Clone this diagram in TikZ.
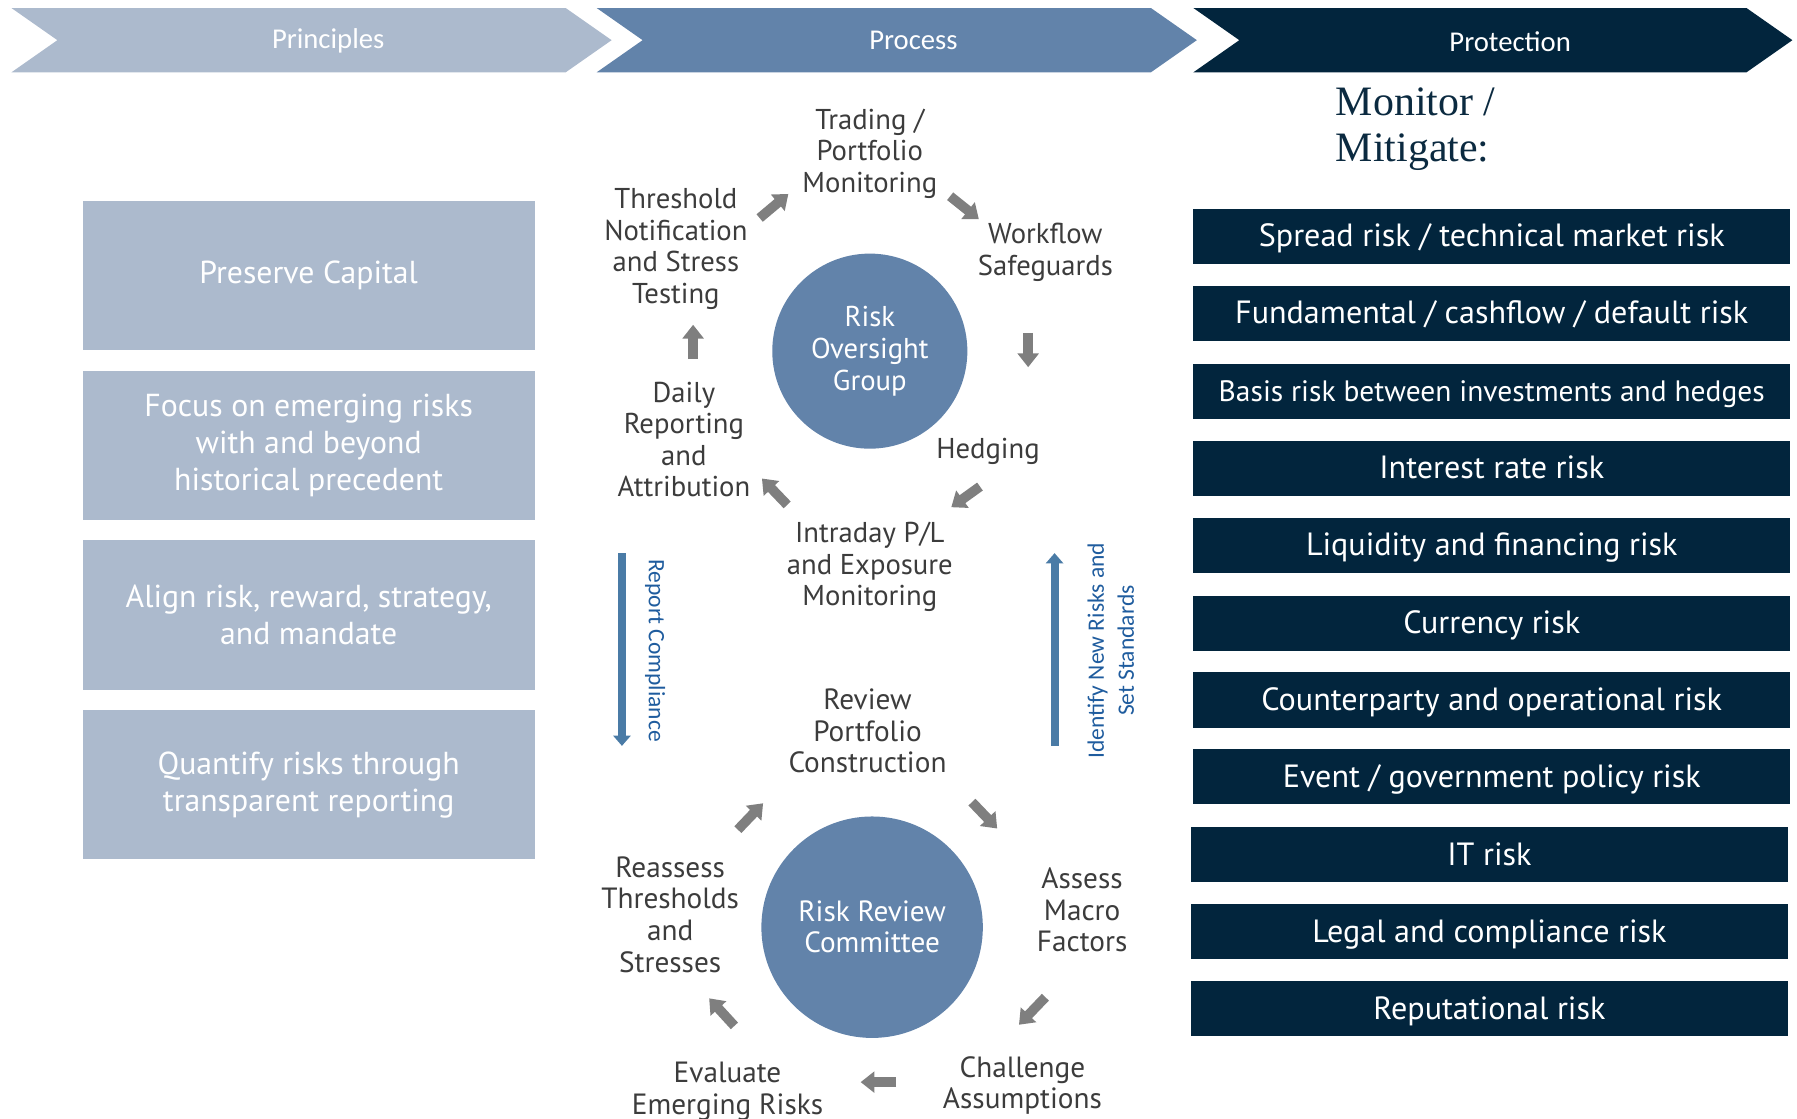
\documentclass[tikz,border=0pt]{standalone}
\usepackage{fontspec}
\setmainfont{PT Sans}
\newfontfamily\calibfont{Carlito}
\newfontfamily\serifmon{Liberation Serif}
\usetikzlibrary{arrows.meta}
\definecolor{princ}{HTML}{ACBACD}
\definecolor{proc}{HTML}{6283AA}
\definecolor{prot}{HTML}{02253D}
\definecolor{garr}{HTML}{7F7F7F}
\definecolor{barr}{HTML}{4A7BA6}
\definecolor{btext}{HTML}{1F5C9E}
\definecolor{ptext}{HTML}{3C3C3C}
\definecolor{montext}{HTML}{0B2A40}
\begin{document}
\begin{tikzpicture}[x=1pt,y=-1pt,
  chevlabel/.style={text=white,inner sep=0,font=\calibfont\fontsize{25}{30}\selectfont},
  pbox/.style={fill=princ,minimum width=394pt,minimum height=130pt,text=white,align=center,inner sep=0,font=\fontsize{27.7}{32}\selectfont},
  rbox/.style={fill=prot,minimum width=520pt,minimum height=48pt,text=white,inner sep=0,text height=21pt,text depth=3pt,font=\fontsize{28}{30}\selectfont},
  ptxt/.style={text=ptext,align=center,inner sep=0,font=\fontsize{25}{27.5}\selectfont},
  ltxt/.style={text=ptext,align=center,inner sep=0,font=\fontsize{25.5}{27.5}\selectfont},
  circ/.style={circle,fill=proc,text=white,align=center,inner sep=0},
  garrow/.style={draw=garr,line width=8.5pt,-{Triangle[width=18pt,length=12pt]}},
  barrow/.style={draw=barr,line width=7pt,-{Triangle[width=15pt,length=9pt]}},
  vlabel/.style={text=btext,align=center,inner sep=0,font=\calibfont\fontsize{20.5}{26}\selectfont}
]
\useasboundingbox (0,0) rectangle (1566,975);

% chevrons
\fill[princ] (10,7) -- (493,7) -- (533,35) -- (493,63) -- (10,63) -- (50,35) -- cycle;
\fill[proc] (520,7) -- (1003,7) -- (1043,35) -- (1003,63) -- (520,63) -- (560,35) -- cycle;
\fill[prot] (1040,7) -- (1522,7) -- (1562,35) -- (1522,63) -- (1040,63) -- (1080,35) -- cycle;
\node[chevlabel] (hprin) at (286,36) {Principles};
\node[chevlabel] (hproc) at (796,35) {Process};
\node[chevlabel] (hprot) at (1316,36) {Protection};

% principles boxes
\node[pbox] (p1) at (269,240) {Preserve Capital};
\node[pbox] (p2) at (269,388) {Focus on emerging risks\\with and beyond\\historical precedent};
\node[pbox] (p3) at (269,536) {Align risk, reward, strategy,\\and mandate};
\node[pbox] (p4) at (269,684) {Quantify risks through\\transparent reporting};

% monitor / mitigate
\node[anchor=north west,align=left,inner sep=0,text=montext,font=\serifmon\fontsize{36.5}{40}\selectfont] (mon) at (1164,76) {Monitor /\\Mitigate:};

% protection boxes
\node[rbox] (r1) at (1300,206) {Spread risk / technical market risk};
\node[rbox] (r2) at (1300,273) {Fundamental / cashflow / default risk};
\node[rbox,font=\fontsize{25.7}{30}\selectfont] (r3) at (1300,341) {Basis risk between investments and hedges};
\node[rbox] (r4) at (1300,408) {Interest rate risk};
\node[rbox] (r5) at (1300,475) {Liquidity and financing risk};
\node[rbox] (r6) at (1300,543) {Currency risk};
\node[rbox] (r7) at (1300,610) {Counterparty and operational risk};
\node[rbox] (r8) at (1300,677) {Event / government policy risk};
\node[rbox] (r9) at (1298,745) {IT risk};
\node[rbox] (r10) at (1298,812) {Legal and compliance risk};
\node[rbox] (r11) at (1298,879) {Reputational risk};

% upper cycle
\node[circ,minimum size=170pt,font=\fontsize{25}{28}\selectfont] (rog) at (758,306) {Risk\\Oversight\\Group};
\node[ptxt] (trad) at (758,134) {Trading /\\Portfolio\\Monitoring};
\node[ptxt] (thre) at (589,217) {Threshold\\Notification\\and Stress\\Testing};
\node[ptxt] (work) at (911,220) {Workflow\\Safeguards};
\node[ptxt] (hedg) at (861,393.5) {Hedging};
\node[ptxt] (dail) at (596,383) {Daily\\Reporting\\and\\Attribution};
\node[ptxt] (intr) at (758,494) {Intraday P/L\\and Exposure\\Monitoring};

\coordinate (u1s) at (662,190); \coordinate (u1e) at (687,169);
\coordinate (u2s) at (828,171); \coordinate (u2e) at (853,191);
\coordinate (u3s) at (896,290); \coordinate (u3e) at (896,320);
\coordinate (u4s) at (854,424); \coordinate (u4e) at (829,442);
\coordinate (u5s) at (686,440); \coordinate (u5e) at (664,417);
\coordinate (u6s) at (604,313); \coordinate (u6e) at (604,283);
\draw[garrow] (u1s) -- (u1e);
\draw[garrow] (u2s) -- (u2e);
\draw[garrow] (u3s) -- (u3e);
\draw[garrow] (u4s) -- (u4e);
\draw[garrow] (u5s) -- (u5e);
\draw[garrow] (u6s) -- (u6e);

% vertical arrows
\coordinate (b1s) at (542,482); \coordinate (b1e) at (542,650);
\coordinate (b2s) at (919,650); \coordinate (b2e) at (919,482);
\draw[barrow] (b1s) -- (b1e);
\draw[barrow] (b2s) -- (b2e);
\node[vlabel,rotate=-90] (repc) at (571,567) {Report Compliance};
\node[vlabel,rotate=90] (iden) at (968,567) {Identify New Risks and\\Set Standards};

% lower cycle
\node[circ,minimum size=193pt,font=\fontsize{25.5}{27}\selectfont] (rrc) at (760,808) {Risk Review\\Committee};
\node[ltxt] (revi) at (756,637) {Review\\Portfolio\\Construction};
\node[ltxt] (asse) at (943,793) {Assess\\Macro\\Factors};
\node[ltxt] (chal) at (891,946) {Challenge\\Assumptions};
\node[ltxt] (eval) at (634,951) {Evaluate\\Emerging Risks};
\node[ltxt] (reas) at (584,797) {Reassess\\Thresholds\\and\\Stresses};

\coordinate (l1s) at (643,723); \coordinate (l1e) at (665,700);
\coordinate (l2s) at (847,699); \coordinate (l2e) at (869,722);
\coordinate (l3s) at (911,869); \coordinate (l3e) at (888,893);
\coordinate (l4s) at (781,943); \coordinate (l4e) at (750,943);
\coordinate (l5s) at (640,894); \coordinate (l5e) at (618,870);
\draw[garrow] (l1s) -- (l1e);
\draw[garrow] (l2s) -- (l2e);
\draw[garrow] (l3s) -- (l3e);
\draw[garrow] (l4s) -- (l4e);
\draw[garrow] (l5s) -- (l5e);
\end{tikzpicture}
\end{document}
